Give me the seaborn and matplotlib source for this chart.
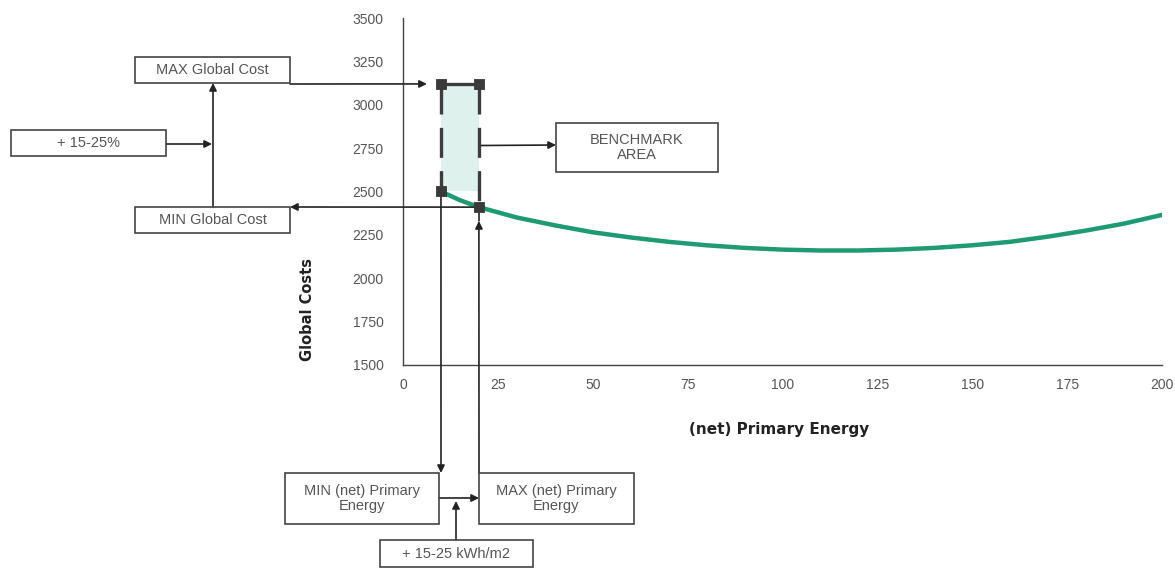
import matplotlib
matplotlib.use("Agg")
import matplotlib.pyplot as plt
import seaborn as sns
import pandas as pd
from matplotlib.patches import Rectangle

# Global cost curve
energy = [10, 15, 20, 30, 40, 50, 60, 70, 80, 90, 100, 110, 120, 130, 140, 150, 160, 170, 180, 190, 200]
cost = [2500, 2450, 2410, 2350, 2305, 2265, 2235, 2210, 2190, 2175, 2165, 2160, 2160, 2165, 2175,
        2190, 2210, 2240, 2275, 2315, 2365]

# benchmark area corners
bench_energy = [10, 20, 10, 20]
bench_cost = [3120, 3120, 2500, 2410]
min_energy, max_energy = 10, 20
min_cost, max_cost = 2500, 3120

xticks = [0, 25, 50, 75, 100, 125, 150, 175, 200]
yticks = [1500, 1750, 2000, 2250, 2500, 2750, 3000, 3250, 3500]

W, H = 1175, 568


def fp(px, py):
    # picture pixels (top-left origin) -> figure fraction
    return (px / W, 1 - py / H)


sns.set_style("white")
plt.rcParams['font.family'] = ['Liberation Sans', 'DejaVu Sans']

fig = plt.figure(figsize=(11.75, 5.68), dpi=100)
ax = fig.add_axes([403 / W, 1 - 365 / H, 759 / W, 347 / H])

df = pd.DataFrame({'energy': energy, 'cost': cost})

# shaded benchmark area
ax.fill_between([min_energy, max_energy], [min_cost, min_cost], [max_cost, max_cost],
                color='#dff1ec', linewidth=0, zorder=1)

sns.lineplot(data=df, x='energy', y='cost', color='#1f9a72', linewidth=3.2, ax=ax, zorder=3)

# dashed borders of the area
ax.plot([min_energy, min_energy], [max_cost, min_cost], color='#3c3c3c', lw=2.4,
        dashes=(9, 4), zorder=4)
ax.plot([max_energy, max_energy], [max_cost, bench_cost[3]], color='#3c3c3c', lw=2.4,
        dashes=(9, 4), zorder=4)
ax.plot([min_energy, max_energy], [max_cost, max_cost], color='#3c3c3c', lw=2.4, zorder=4)

bench = pd.DataFrame({'e': bench_energy, 'c': bench_cost})
sns.scatterplot(data=bench, x='e', y='c', marker='s', s=60, color='#3a3a3a',
                edgecolor='#3a3a3a', ax=ax, zorder=5)

ax.set_xlim(0, 200)
ax.set_ylim(1500, 3500)
ax.set_xticks(xticks)
ax.set_yticks(yticks)
ax.tick_params(axis='both', labelsize=10, labelcolor='#555555', colors='#555555',
               length=3, width=0.8)
ax.tick_params(axis='y', direction='out', pad=11)
ax.tick_params(axis='x', direction='inout', pad=8)
for s in ['top', 'right']:
    ax.spines[s].set_visible(False)
for s in ['left', 'bottom']:
    ax.spines[s].set_color('#444444')
    ax.spines[s].set_linewidth(1.0)

ax.set_xlabel('(net) Primary Energy', fontsize=11, fontweight='bold', color='#222222',
              family='DejaVu Sans')
ax.set_ylabel('Global Costs', fontsize=10.5, fontweight='bold', color='#222222',
              family='DejaVu Sans')
ax.xaxis.set_label_coords(0.495, -0.165)
ax.yaxis.set_label_coords(-0.116, 0.16)

# boxes
boxes = [
    (135, 57, 290, 83, 'MAX Global Cost'),
    (11, 130, 166, 156, '+ 15-25%'),
    (135, 207, 290, 233, 'MIN Global Cost'),
    (556, 123, 718, 172, 'BENCHMARK\nAREA'),
    (285, 473, 439, 524, 'MIN (net) Primary\nEnergy'),
    (479, 473, 634, 524, 'MAX (net) Primary\nEnergy'),
    (380, 540, 533, 567, '+ 15-25 kWh/m2'),
]
for x0, y0, x1, y1, label in boxes:
    fig.add_artist(Rectangle(fp(x0, y1), (x1 - x0) / W, (y1 - y0) / H, transform=fig.transFigure,
                             fill=False, edgecolor='#444444', linewidth=1.2))
    cx, cy = fp((x0 + x1) / 2, (y0 + y1) / 2)
    fig.text(cx, cy, label, ha='center', va='center', fontsize=10.5, color='#555555',
             linespacing=1.05)

arrow = dict(arrowstyle='-|>', color='#222222', lw=1.2, mutation_scale=11,
             shrinkA=0, shrinkB=0)


def fig_arrow(p0, p1, props=arrow):
    ax.annotate('', xy=fp(*p1), xycoords='figure fraction', xytext=fp(*p0),
                textcoords='figure fraction', arrowprops=props, annotation_clip=False)


# MAX global cost -> top of area
ax.annotate('', xy=(6.3, max_cost), xycoords='data', xytext=fp(290, 84),
            textcoords='figure fraction', arrowprops=arrow, annotation_clip=False)
# bottom of area -> MIN global cost
ax.annotate('', xy=fp(290, 207), xycoords='figure fraction', xytext=(max_energy, 2410),
            textcoords='data', arrowprops=arrow, annotation_clip=False)
# MIN global cost -> MAX global cost
fig_arrow((213, 207), (213, 83))
fig_arrow((166, 144), (212, 144))
# area -> benchmark box
ax.annotate('', xy=fp(556, 145), xycoords='figure fraction', xytext=(max_energy, 2765),
            textcoords='data', arrowprops=arrow, annotation_clip=False)
# min energy -> MIN (net) box
ax.annotate('', xy=fp(441, 473), xycoords='figure fraction', xytext=(min_energy, min_cost),
            textcoords='data', arrowprops=arrow, annotation_clip=False)
# MAX (net) box -> max energy
ax.annotate('', xy=(max_energy, 2330), xycoords='data', xytext=fp(479, 473),
            textcoords='figure fraction', arrowprops=arrow, annotation_clip=False)
ax.plot([max_energy, max_energy], [2330, 2400], color='#222222', lw=1.2, zorder=2)
# MIN (net) -> MAX (net)
fig_arrow((439, 498), (479, 498))
fig_arrow((456, 540), (456, 501))

fig.savefig('out.png', dpi=100, facecolor='white')
